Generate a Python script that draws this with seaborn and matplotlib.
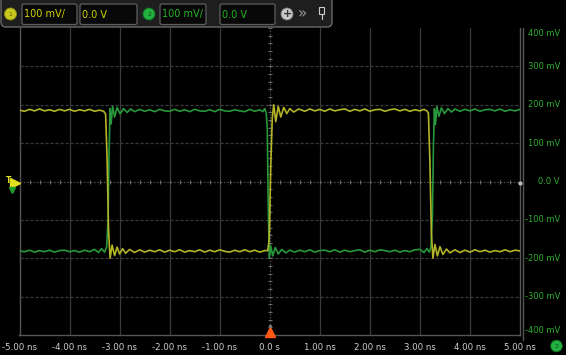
import matplotlib
matplotlib.use("Agg")
import matplotlib.pyplot as plt
from matplotlib.patches import FancyBboxPatch, Circle, Rectangle
import numpy as np
import pandas as pd
import seaborn as sns

# ---------------- data (time in ns, amplitude in mV) ----------------
ch1_t = [
 -5.00, -4.90, -4.80, -4.70, -4.60, -4.50, -4.40, -4.30, -4.20, -4.10,
 -4.00, -3.90, -3.80, -3.70, -3.60, -3.50, -3.40, -3.32,
 -3.28, -3.25, -3.22, -3.19, -3.15, -3.10, -3.05, -3.00, -2.94, -2.88,
 -2.80, -2.70, -2.60, -2.50, -2.40, -2.30, -2.20, -2.10, -2.00, -1.90,
 -1.80, -1.70, -1.60, -1.50, -1.40, -1.30, -1.20, -1.10, -1.00, -0.90,
 -0.80, -0.70, -0.60, -0.50, -0.40, -0.30, -0.20, -0.10, -0.04,
 -0.01, 0.02, 0.05, 0.08, 0.12, 0.17, 0.22, 0.28, 0.34, 0.40,
 0.48, 0.58, 0.70, 0.80, 0.90, 1.00, 1.10, 1.20, 1.30, 1.40,
 1.50, 1.60, 1.70, 1.80, 1.90, 2.00, 2.10, 2.20, 2.30, 2.40,
 2.50, 2.60, 2.70, 2.80, 2.90, 3.00, 3.08, 3.14,
 3.17, 3.20, 3.23, 3.26, 3.30, 3.35, 3.40, 3.46, 3.53, 3.60,
 3.70, 3.80, 3.90, 4.00, 4.10, 4.20, 4.30, 4.40, 4.50, 4.60,
 4.70, 4.80, 4.90, 5.00]
ch1_mv = [
 186, 183, 188, 184, 189, 184, 187, 183, 188, 184,
 188, 183, 187, 184, 188, 183, 186, 183,
 176, 60, -130, -200, -166, -193, -171, -189, -175, -187,
 -177, -185, -178, -184, -179, -183, -178, -184, -179, -183,
 -178, -184, -180, -183, -178, -184, -179, -183, -178, -182,
 -184, -179, -183, -178, -183, -179, -184, -180, -180,
 -150, 40, 165, 200, 156, 196, 168, 193, 177, 190,
 181, 189, 183, 189, 184, 188, 183, 189, 184, 187,
 189, 183, 188, 184, 189, 183, 187, 188, 183, 187,
 189, 184, 188, 183, 187, 184, 188, 184,
 178, 50, -135, -200, -164, -194, -170, -190, -176, -186,
 -178, -185, -179, -184, -178, -183, -179, -184, -180, -183,
 -178, -183, -179, -181]

ch2_t = [
 -5.00, -4.90, -4.80, -4.70, -4.60, -4.50, -4.40, -4.30, -4.20, -4.10,
 -4.00, -3.90, -3.80, -3.70, -3.60, -3.50, -3.42, -3.36, -3.30, -3.26,
 -3.23, -3.21, -3.19, -3.17, -3.14, -3.10, -3.05, -2.99, -2.92, -2.85,
 -2.78, -2.70, -2.60, -2.50, -2.40, -2.30, -2.20, -2.10, -2.00, -1.90,
 -1.80, -1.70, -1.60, -1.50, -1.40, -1.30, -1.20, -1.10, -1.00, -0.90,
 -0.80, -0.70, -0.60, -0.50, -0.40, -0.30, -0.20, -0.14, -0.10, -0.07,
 -0.05, -0.03, -0.01, 0.02, 0.06, 0.11, 0.17, 0.24, 0.32, 0.40,
 0.50, 0.60, 0.70, 0.80, 0.90, 1.00, 1.10, 1.20, 1.30, 1.40,
 1.50, 1.60, 1.70, 1.80, 1.90, 2.00, 2.10, 2.20, 2.30, 2.40,
 2.50, 2.60, 2.70, 2.80, 2.90, 3.00, 3.08, 3.14, 3.19, 3.22,
 3.25, 3.27, 3.29, 3.31, 3.34, 3.38, 3.43, 3.49, 3.56, 3.63,
 3.70, 3.80, 3.90, 4.00, 4.10, 4.20, 4.30, 4.40, 4.50, 4.60,
 4.70, 4.80, 4.90, 5.00]
ch2_mv = [
 -181, -183, -179, -184, -180, -183, -179, -184, -180, -179,
 -183, -180, -184, -179, -183, -177, -185, -175, -184, -172,
 -100, 80, 190, 150, 196, 168, 193, 176, 190, 180,
 189, 182, 188, 183, 187, 182, 188, 184, 183, 188,
 183, 187, 182, 188, 184, 183, 187, 182, 188, 184,
 183, 187, 184, 182, 188, 183, 187, 182, 190, 179,
 140, -60, -200, -168, -194, -172, -189, -177, -186, -179,
 -184, -179, -183, -178, -184, -180, -179, -183, -178, -184,
 -179, -183, -180, -178, -184, -179, -183, -178, -180, -183,
 -179, -184, -180, -183, -178, -177, -185, -175, -184, -170,
 -90, 90, 190, 148, 195, 170, 192, 177, 190, 181,
 189, 183, 188, 184, 189, 183, 187, 188, 184, 189,
 183, 187, 184, 188]

x_ticks = [-5, -4, -3, -2, -1, 0, 1, 2, 3, 4, 5]
x_labels = ["-5.00 ns", "-4.00 ns", "-3.00 ns", "-2.00 ns", "-1.00 ns", "0.0 s",
            "1.00 ns", "2.00 ns", "3.00 ns", "4.00 ns", "5.00 ns"]
y_ticks = [400, 300, 200, 100, 0, -100, -200, -300, -400]
y_labels = ["400 mV", "300 mV", "200 mV", "100 mV", "0.0 V",
            "-100 mV", "-200 mV", "-300 mV", "-400 mV"]

# ---------------- style ----------------
sns.set_style("dark")
plt.rcParams['font.family'] = ['DejaVu Sans']

W, H = 566, 355
fig = plt.figure(figsize=(W / 100, H / 100), dpi=100, facecolor="black")

L, R, T, B = 19.5, 520.0, 28.0, 335.0
ax = fig.add_axes([L / W, 1 - B / H, (R - L) / W, (B - T) / H])
ax.set_facecolor("black")
ax.set_xlim(-5, 5)
ax.set_ylim(-400, 400)

grid_c = "#3a3a3a"
for x in range(-4, 5):
    if x != 0:
        ax.axvline(x, color=grid_c, lw=0.9, zorder=1)
for y in (-300, -200, -100, 100, 200, 300):
    ax.axhline(y, color=grid_c, lw=0.9, ls=(0, (2.5, 1.5)), zorder=1)
ax.axhline(0, color="#505050", lw=0.8, ls=(0, (1.5, 1.5)), zorder=1)
ax.axvline(0, color="#505050", lw=0.8, ls=(0, (1.5, 1.5)), zorder=1)
# center-line minor tick marks
xt = np.arange(-5, 5.01, 0.2)
ax.plot(xt, np.zeros_like(xt), ls="none", marker="|", ms=3, mew=0.8, color="#6a6a6a", zorder=1)
yt = np.arange(-400, 401, 20)
ax.plot(np.zeros_like(yt), yt, ls="none", marker="_", ms=3, mew=0.8, color="#6a6a6a", zorder=1)

df1 = pd.DataFrame({"t": ch1_t, "mv": ch1_mv})
df2 = pd.DataFrame({"t": ch2_t, "mv": ch2_mv})
yellow = "#b4b428"
green = "#27993a"
sns.lineplot(data=df2, x="t", y="mv", ax=ax, color=green, lw=1.2, estimator=None, sort=False, zorder=3)
sns.lineplot(data=df1, x="t", y="mv", ax=ax, color=yellow, lw=1.2, estimator=None, sort=False, zorder=3)

for s in ax.spines.values():
    s.set_color("#555555")
    s.set_linewidth(1.0)
ax.spines["top"].set_visible(False)
ax.set_xlabel("")
ax.set_ylabel("")
ax.grid(False)
ax.set_xticks(x_ticks)
ax.set_xticklabels(x_labels, color="#cfcfcf", fontsize=6.2)
ax.tick_params(axis="x", length=0, pad=6)
ax.set_yticks([])

# right-hand volt labels
ytrans = matplotlib.transforms.blended_transform_factory(fig.transFigure, ax.transData)
for v, lab in zip(y_ticks, y_labels):
    yy = v
    if v == 400:
        yy = 386
    if v == -400:
        yy = -388
    ax.text(560 / W, yy, lab, transform=ytrans, ha="right", va="center",
            color="#2fae2f", fontsize=6.0, clip_on=False, zorder=10)

# ---------------- overlay (instrument chrome) ----------------
ov = fig.add_axes([0, 0, 1, 1], zorder=5)
ov.set_xlim(0, W)
ov.set_ylim(H, 0)
ov.axis("off")
ov.patch.set_visible(False)

# separator at right of graticule
ov.plot([522.5, 522.5], [28, 340], color="#555555", lw=1.0)

# top bar
ov.add_patch(FancyBboxPatch((1, -6), 331, 33, boxstyle="round,pad=0,rounding_size=5",
                            fc="#1e1e1e", ec="#6a6a6a", lw=1.0))
def box(x0, x1, txt, col):
    ov.add_patch(FancyBboxPatch((x0, 4), x1 - x0, 20.5, boxstyle="round,pad=0,rounding_size=2",
                                fc="#080808", ec="#5e5e5e", lw=0.9))
    ov.text(x0 + 2.5, 14.5, txt, color=col, fontsize=7.0, ha="left", va="center")

ov.add_patch(Circle((10.5, 14), 6.0, fc="#c8c81e", ec="#8a8a10", lw=0.6))
ov.text(10.5, 14.3, "1", color="#5a5a00", fontsize=4.5, ha="center", va="center")
box(22, 77, "100 mV/", "#d2d200")
box(80, 137, "0.0 V", "#d2d200")
ov.add_patch(Circle((149, 14), 6.0, fc="#22b040", ec="#127020", lw=0.6))
ov.text(149, 14.3, "2", color="#0a4a10", fontsize=4.5, ha="center", va="center")
box(160, 206, "100 mV/", "#22b422")
box(220, 275, "0.0 V", "#22b422")
ov.add_patch(Circle((287, 14), 6, fc="#c8c8c8", ec="#777777", lw=0.6))
ov.text(287, 13.6, "+", color="#333333", fontsize=8, ha="center", va="center", fontweight="bold")
ov.text(302, 13.5, "\u00bb", color="#9a9a9a", fontsize=11, ha="center", va="center")
ov.add_patch(Rectangle((319, 6.5), 5, 7, fc="none", ec="#cccccc", lw=0.8))
ov.plot([321.5, 321.5], [13.5, 18.5], color="#cccccc", lw=0.8)

# trigger markers
ov.plot([270], [331.5], marker="^", ms=6.5, color="#ff5a14", ls="none")
ov.plot([270], [325.5], marker="o", ms=1.5, color="#777777", ls="none")
ov.plot([14.5], [182.5], marker=">", ms=6.5, color="#e0e020", ls="none")
ov.text(8.5, 180.5, "T", color="#e0e020", fontsize=5.5, ha="center", va="center", fontweight="bold")
ov.plot([12], [189.5], marker="v", ms=5, color="#1e9e2e", ls="none")
ov.plot([520], [182.5], marker="o", ms=2, color="#bbbbbb", ls="none")

# bottom-right channel badge
ov.add_patch(Circle((556.5, 346), 5.8, fc="#22b040", ec="#127020", lw=0.6))
ov.text(556.5, 346.3, "2", color="#0a4a10", fontsize=4.5, ha="center", va="center")

fig.savefig("out.png", dpi=100, facecolor="black")
